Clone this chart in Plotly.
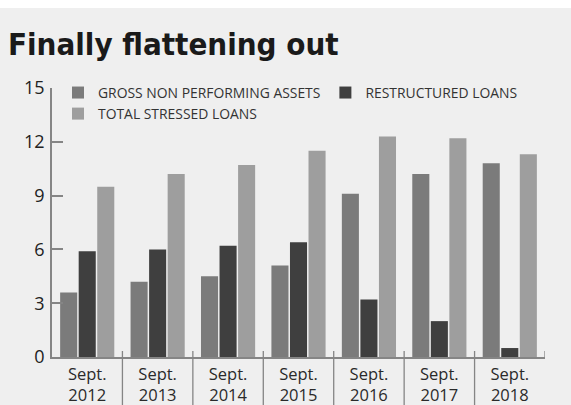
import plotly.graph_objects as go

categories = ["Sept.<br>2012", "Sept.<br>2013", "Sept.<br>2014", "Sept.<br>2015",
              "Sept.<br>2016", "Sept.<br>2017", "Sept.<br>2018"]
gross_npa = [3.6, 4.2, 4.5, 5.1, 9.1, 10.2, 10.8]
restructured = [5.9, 6.0, 6.2, 6.4, 3.2, 2.0, 0.5]
total_stressed = [9.5, 10.2, 10.7, 11.5, 12.3, 12.2, 11.3]
y_ticks = [0, 3, 6, 9, 12, 15]

W, H = 571, 405
ML, MR, MT, MB = 0, 0, 88, 48
PH = H - MT - MB
X0, X1 = 52, 545

def py(px):  # pixel y -> paper y
    return (H - MB - px) / PH

fig = go.Figure()
fig.add_bar(x=categories, y=gross_npa, name="GROSS NON PERFORMING ASSETS",
            marker=dict(color="#7b7b7b", line=dict(width=0)))
fig.add_bar(x=categories, y=restructured, name="RESTRUCTURED LOANS",
            marker=dict(color="#3f3f3f", line=dict(width=0)))
fig.add_bar(x=categories, y=total_stressed, name="TOTAL STRESSED LOANS",
            marker=dict(color="#9e9e9e", line=dict(width=0)))

axis_col = "#858585"
shapes = []
# white strip at top
shapes.append(dict(type="rect", xref="paper", yref="paper", x0=0, x1=1,
                   y0=py(8), y1=py(-20), fillcolor="white", line=dict(width=0),
                   layer="below"))
# category separators
for i in range(len(categories) - 1):
    shapes.append(dict(type="line", xref="x", yref="paper", x0=i + 0.5, x1=i + 0.5,
                       y0=py(H + 2), y1=py(351), line=dict(color=axis_col, width=1.3)))
# right end tick
shapes.append(dict(type="line", xref="x", yref="paper",
                   x0=len(categories) - 0.5, x1=len(categories) - 0.5,
                   y0=0, y1=py(351), line=dict(color=axis_col, width=1.3)))

fig.update_layout(
    width=W, height=H,
    margin=dict(l=ML, r=MR, t=MT, b=MB, autoexpand=False),
    paper_bgcolor="#efefef", plot_bgcolor="rgba(0,0,0,0)",
    barmode="group", bargap=0.21, bargroupgap=0.08,
    showlegend=True,
    legend=dict(orientation="h", x=58 / W, xanchor="left", y=py(77), yanchor="top",
                bgcolor="rgba(0,0,0,0)", traceorder="normal",
                font=dict(family="Open Sans", size=13.9, color="#333333")),
    xaxis=dict(domain=[X0 / W, X1 / W], range=[-0.5, len(categories) - 0.5],
               showline=True, linecolor=axis_col, linewidth=1.5, ticks="",
               showgrid=False, zeroline=False, ticklabelstandoff=1,
               tickfont=dict(family="Open Sans", size=16.5, color="#2a2a2a")),
    yaxis=dict(range=[0, 15], tickvals=y_ticks, ticks="inside", ticklen=11,
               tickwidth=1.5, tickcolor=axis_col, showline=True, linecolor=axis_col,
               linewidth=1.5, showgrid=False, zeroline=False, ticklabelstandoff=2,
               tickfont=dict(family="Open Sans", size=18, color="#222222")),
    shapes=shapes,
    annotations=[dict(text="<b>Finally flattening out</b>", xref="paper", yref="paper",
                      x=6 / W, y=py(44), xanchor="left", yanchor="middle", showarrow=False,
                      font=dict(family="Liberation Sans Narrow, DejaVu Sans Condensed, Roboto",
                                size=31, color="#1a1a1a"))],
)

fig.write_html("out.html", config={"displayModeBar": False},
               post_script="document.body.style.margin='0';document.body.style.overflow='hidden';")
